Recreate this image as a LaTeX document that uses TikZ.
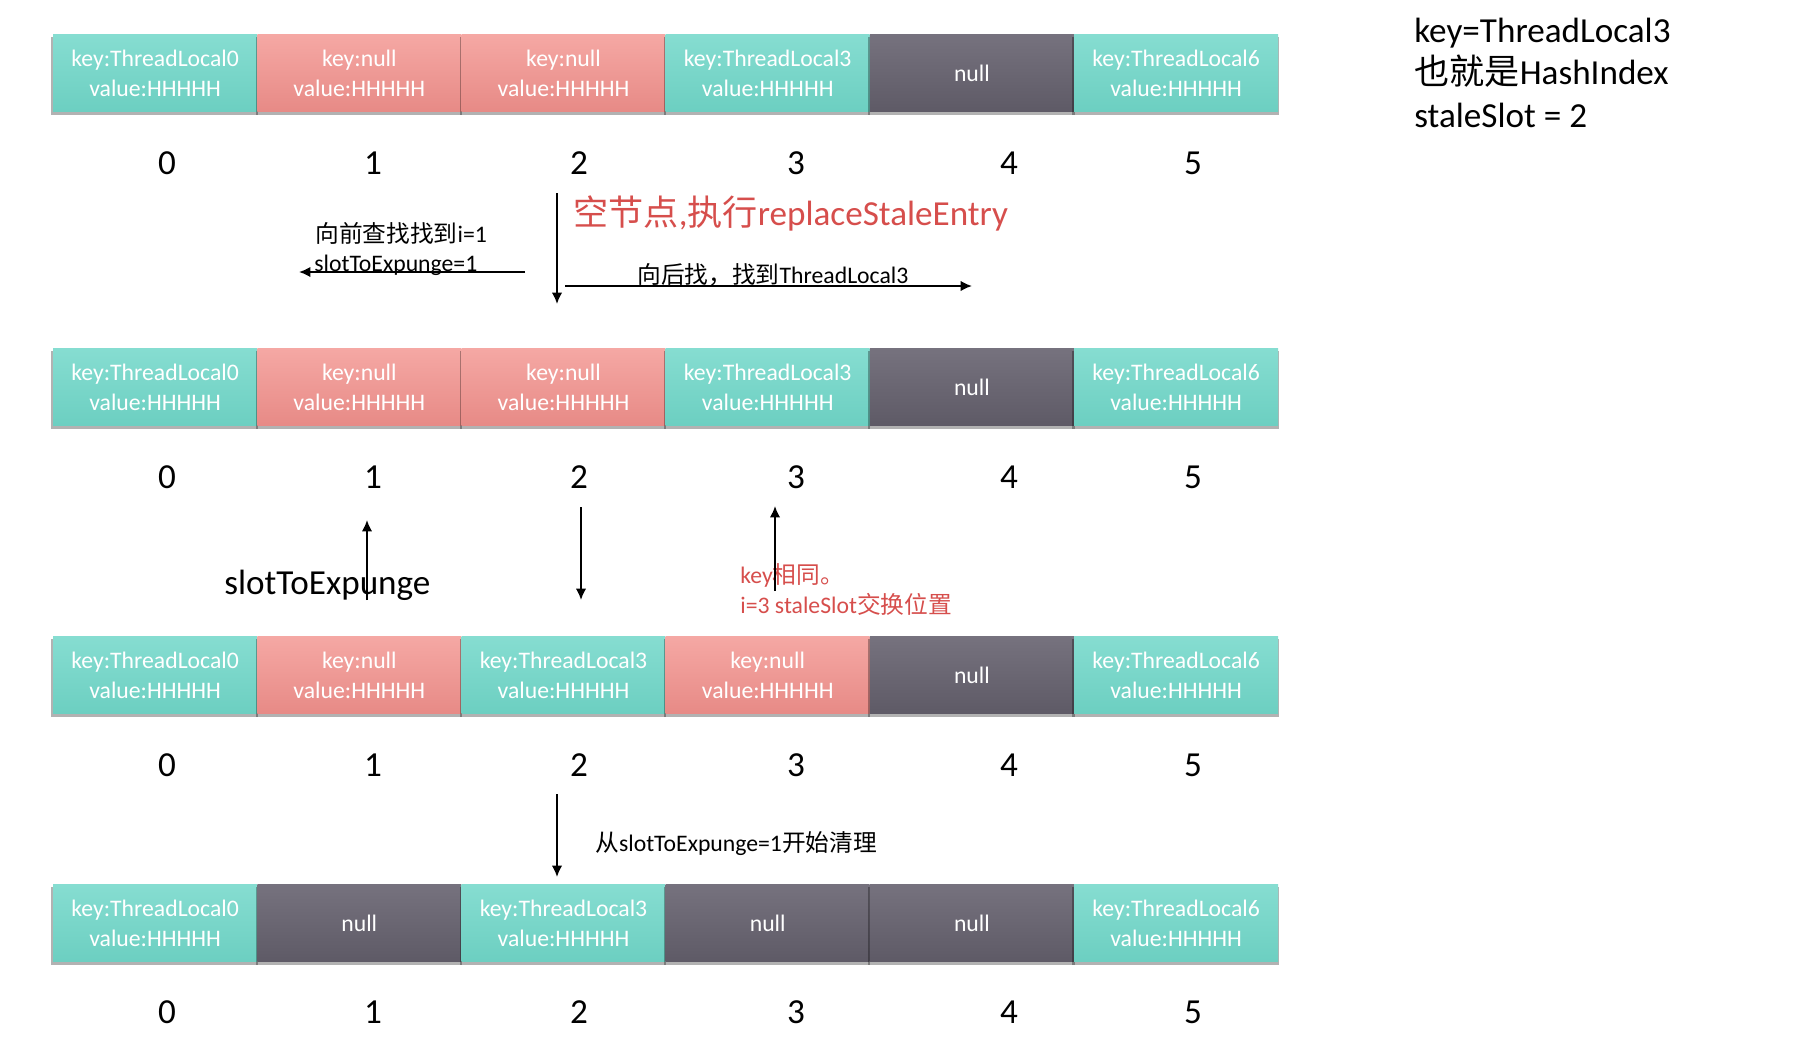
\documentclass[tikz,border=0pt]{standalone}
\usepackage{fontspec}
\setmainfont{Carlito}
\newfontfamily\cjk{Noto Sans CJK SC}
\usetikzlibrary{arrows.meta,shadows}

\definecolor{cTealTop}{RGB}{134,221,209}
\definecolor{cTealBot}{RGB}{108,207,193}
\definecolor{cPinkTop}{RGB}{245,168,164}
\definecolor{cPinkBot}{RGB}{231,138,134}
\definecolor{cNullTop}{RGB}{118,114,126}
\definecolor{cNullBot}{RGB}{94,90,102}
\definecolor{cNote}{RGB}{214,78,76}

\tikzset{
  slotcell/.style={minimum width=4.08cm, minimum height=1.55cm, inner sep=0pt,
    text=white, align=center, font=\fontsize{13.5}{17}\selectfont,
    drop shadow={shadow scale=1.012, shadow xshift=-0.3pt, shadow yshift=-1.8pt,
      opacity=0.3, fill=black}},
  livecell/.style={slotcell, top color=cTealTop, bottom color=cTealBot},
  stalecell/.style={slotcell, top color=cPinkTop, bottom color=cPinkBot},
  nullslot/.style={slotcell, top color=cNullTop, bottom color=cNullBot},
  idx/.style={font=\fontsize{20}{24}\selectfont, inner sep=0pt},
  note/.style={font=\fontsize{13.5}{17}\selectfont, anchor=base west, inner sep=0pt},
  bignote/.style={font=\fontsize{20}{24}\selectfont, anchor=base west, inner sep=0pt},
  flow/.style={line width=1.1pt, -{Latex[length=6.5pt,width=6pt]}},
}

\newcommand{\kv}[1]{key:ThreadLocal#1\\value:HHHHH}
\newcommand{\kn}{key:null\\value:HHHHH}

\begin{document}
\begin{tikzpicture}[x=0.02cm, y=-0.02cm]
\useasboundingbox (0,0) rectangle (1804,1052);

% ---------- row 1 ----------
\node[livecell]  (r1c0) at (155.1,73) {\kv{0}};
\node[stalecell] (r1c1) at (359.3,73) {\kn};
\node[stalecell] (r1c2) at (563.5,73) {\kn};
\node[livecell]  (r1c3) at (767.7,73) {\kv{3}};
\node[nullslot]  (r1c4) at (971.9,73) {null};
\node[livecell]  (r1c5) at (1176.1,73) {\kv{6}};

% ---------- row 2 ----------
\node[livecell]  (r2c0) at (155.1,387) {\kv{0}};
\node[stalecell] (r2c1) at (359.3,387) {\kn};
\node[stalecell] (r2c2) at (563.5,387) {\kn};
\node[livecell]  (r2c3) at (767.7,387) {\kv{3}};
\node[nullslot]  (r2c4) at (971.9,387) {null};
\node[livecell]  (r2c5) at (1176.1,387) {\kv{6}};

% ---------- row 3 ----------
\node[livecell]  (r3c0) at (155.1,675) {\kv{0}};
\node[stalecell] (r3c1) at (359.3,675) {\kn};
\node[livecell]  (r3c2) at (563.5,675) {\kv{3}};
\node[stalecell] (r3c3) at (767.7,675) {\kn};
\node[nullslot]  (r3c4) at (971.9,675) {null};
\node[livecell]  (r3c5) at (1176.1,675) {\kv{6}};

% ---------- row 4 ----------
\node[livecell]  (r4c0) at (155.1,923) {\kv{0}};
\node[nullslot]  (r4c1) at (359.3,923) {null};
\node[livecell]  (r4c2) at (563.5,923) {\kv{3}};
\node[nullslot]  (r4c3) at (767.7,923) {null};
\node[nullslot]  (r4c4) at (971.9,923) {null};
\node[livecell]  (r4c5) at (1176.1,923) {\kv{6}};

% ---------- indices ----------
\foreach \r/\yy in {1/163, 2/477, 3/765, 4/1012} {
  \foreach \i/\xx in {0/167, 1/373, 2/579, 3/796, 4/1009, 5/1193} {
    \node[idx] (i\r n\i) at (\xx,\yy) {\i};
  }
}

% ---------- info block ----------
\node[bignote] (info1) at (1414,42)  {key=ThreadLocal3};
\node[bignote] (info2) at (1414,84)  {{\cjk 也就是}HashIndex};
\node[bignote] (info3) at (1414,127) {staleSlot = 2};

% ---------- step 1 -> 2 ----------
\node[bignote, text=cNote] (title) at (573,225) {{\cjk 空节点},{\cjk 执行}replaceStaleEntry};
\node[note] (back1) at (315,242) {{\cjk 向前查找找到}i=1};
\node[note] (back2) at (314,271) {slotToExpunge=1};
\node[note] (fwd)   at (637,283) {{\cjk 向后找，找到}ThreadLocal3};

\coordinate (a1s) at (557,193);
\coordinate (a1e) at (557,304);
\coordinate (a2s) at (525,272);
\coordinate (a2e) at (299,272);
\coordinate (a3s) at (565,286);
\coordinate (a3e) at (972,286);
\draw[flow] (a1s) -- (a1e);
\draw[flow] (a2s) -- (a2e);
\draw[flow] (a3s) -- (a3e);

% ---------- step 2 -> 3 ----------
\node[bignote] (expunge) at (224,594) {slotToExpunge};
\node[note, text=cNote] (same1) at (740,583) {key{\cjk 相同。}};
\node[note, text=cNote] (same2) at (740,613) {i=3 staleSlot{\cjk 交换位置}};

\coordinate (b1s) at (367,600);
\coordinate (b1e) at (367,520);
\coordinate (b2s) at (581,507);
\coordinate (b2e) at (581,600);
\coordinate (b3s) at (775,591);
\coordinate (b3e) at (775,506);
\draw[flow] (b1s) -- (b1e);
\draw[flow] (b2s) -- (b2e);
\draw[flow] (b3s) -- (b3e);

% ---------- step 3 -> 4 ----------
\node[note] (clean) at (595,851) {{\cjk 从}slotToExpunge=1{\cjk 开始清理}};
\coordinate (c1s) at (557,794);
\coordinate (c1e) at (557,877);
\draw[flow] (c1s) -- (c1e);
\end{tikzpicture}
\end{document}
